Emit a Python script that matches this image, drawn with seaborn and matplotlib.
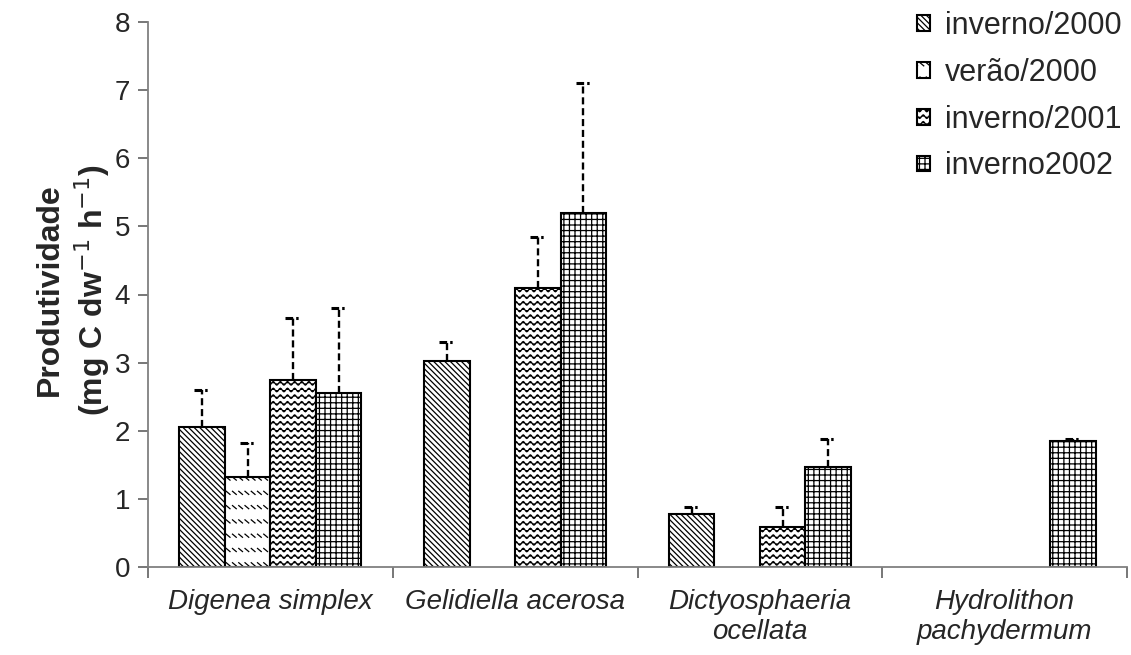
import numpy as np
import pandas as pd
import matplotlib
matplotlib.use("Agg")
import matplotlib.pyplot as plt
import matplotlib.hatch as mhatch
from matplotlib.path import Path
import seaborn as sns
import warnings
warnings.filterwarnings("ignore")

# ---------------- data ----------------
species = ["Digenea simplex", "Gelidiella acerosa", "Dictyosphaeria\nocellata", "Hydrolithon\npachydermum"]
seasons = ["inverno/2000", "verão/2000", "inverno/2001", "inverno2002"]
inverno2000 = [2.05, 3.03, 0.78, None]
verao2000 = [1.32, None, None, None]
inverno2001 = [2.75, 4.10, 0.58, None]
inverno2002 = [2.55, 5.20, 1.47, 1.85]
err_inverno2000 = [0.55, 0.27, 0.10, None]
err_verao2000 = [0.50, None, None, None]
err_inverno2001 = [0.90, 0.75, 0.30, None]
err_inverno2002 = [1.25, 1.90, 0.41, 0.03]
yticks = [0, 1, 2, 3, 4, 5, 6, 7, 8]

values = [inverno2000, verao2000, inverno2001, inverno2002]
errors = [err_inverno2000, err_verao2000, err_inverno2001, err_inverno2002]


# ---------------- custom hatches ----------------
class WaveHatch(mhatch.HatchPatternBase):
    def __init__(self, hatch, density):
        self.num_rows = int(hatch.count('~') * density * 1.25)
        self.pts = 9
        self.periods = 14
        if self.num_rows:
            self.n = self.periods * (self.pts - 1) + 1
            self.num_vertices = self.num_rows * self.n
        else:
            self.num_vertices = 0

    def set_vertices_and_codes(self, vertices, codes):
        n = self.n
        x = np.linspace(0, 1, n)
        amp = 0.27 / self.num_rows
        c = 0
        for i in range(self.num_rows):
            y0 = (i + 0.5) / self.num_rows
            vertices[c:c + n, 0] = x
            vertices[c:c + n, 1] = y0 + amp * np.sin(2 * np.pi * self.periods * x)
            codes[c] = Path.MOVETO
            codes[c + 1:c + n] = Path.LINETO
            c += n


class DashRowHatch(mhatch.HatchPatternBase):
    def __init__(self, hatch, density):
        self.num_rows = int(hatch.count('s') * density * 1.25)
        self.per_row = 16
        self.num_vertices = self.num_rows * self.per_row * 2 if self.num_rows else 0

    def set_vertices_and_codes(self, vertices, codes):
        c = 0
        w = 0.6 / self.per_row
        h = 0.22 / self.num_rows
        for i in range(self.num_rows):
            y0 = (i + 0.5) / self.num_rows
            for j in range(self.per_row):
                x0 = (j + 0.2) / self.per_row
                vertices[c] = (x0, y0 + h / 2)
                vertices[c + 1] = (x0 + w, y0 - h / 2)
                codes[c] = Path.MOVETO
                codes[c + 1] = Path.LINETO
                c += 2


mhatch._hatch_types.append(WaveHatch)
mhatch._hatch_types.append(DashRowHatch)

hatches = ['\\' * 6, 's', '~~', '+++']

# ---------------- style ----------------
sns.set_theme(style="white")
plt.rcParams['font.family'] = ['Liberation Sans', 'DejaVu Sans']
plt.rcParams['hatch.linewidth'] = 0.9
plt.rcParams['hatch.color'] = 'black'

rows = []
for s, vals in zip(seasons, values):
    for sp, v in zip(species, vals):
        if v is not None:
            rows.append({"species": sp, "season": s, "value": v})
df = pd.DataFrame(rows)

fig = plt.figure(figsize=(11.31, 6.55), dpi=100)
ax = fig.add_axes([148 / 1131, 1 - 567 / 655, (1127 - 148) / 1131, (567 - 22) / 655])

sns.barplot(data=df, x="species", y="value", hue="season", order=species,
            hue_order=seasons, width=0.744, errorbar=None, legend=False,
            color="white", saturation=1, ax=ax)

for cont, hatch in zip(ax.containers, hatches):
    for bar in cont:
        bar.set_facecolor("white")
        bar.set_edgecolor("black")
        bar.set_linewidth(1.5)
        bar.set_hatch(hatch)

# error bars (upward only, dashed)
cap_half = 0.032
for cont, errs, vals in zip(ax.containers, errors, values):
    for bar in cont:
        xc = bar.get_x() + bar.get_width() / 2
        k = int(round(xc))
        e = errs[k]
        if e is None or vals[k] is None:
            continue
        top = vals[k] + e
        eb = ax.errorbar([xc], [vals[k]], yerr=[[0], [e]], fmt='none', ecolor='black',
                         elinewidth=1.7, capsize=0, zorder=5)
        for lc in eb[2]:
            lc.set_linestyle((0, (3, 1.6)))
        ax.hlines(top, xc - cap_half, xc + cap_half, colors='black',
                  linewidth=2.2, linestyles=(0, (2.5, 1.0, 0.8, 1.0)), zorder=5)

ax.set_ylim(0, 8)
ax.set_yticks(yticks)
ax.set_xlim(-0.5, len(species) - 0.5)
ax.set_xticks(range(len(species)))
ax.set_xticklabels(species, fontsize=20, style='italic')
ax.set_xticks(np.arange(-0.5, len(species)), minor=True)
ax.tick_params(axis='x', which='major', length=0, pad=16)
ax.tick_params(axis='x', which='minor', length=8, width=1.2, color='#606060', direction='out', bottom=True)
ax.tick_params(axis='y', length=7, width=1.2, color='#606060', direction='out', left=True, labelsize=20, pad=6)
ax.set_xlabel("")
ax.set_ylabel("Produtividade\n(mg C dw$^{-1}$ h$^{-1}$)", fontsize=23, fontweight='bold',
              linespacing=1.25)
ax.yaxis.set_label_coords((112 - 148) / 979, (567 - 290) / 545)

for side in ['top', 'right']:
    ax.spines[side].set_visible(False)
for side in ['left', 'bottom']:
    ax.spines[side].set_color('#808080')
    ax.spines[side].set_linewidth(1.3)

leg = ax.legend(handles=list(ax.containers), labels=seasons, loc='upper left',
                bbox_to_anchor=(914 / 1131, 1 - 8 / 655), bbox_transform=fig.transFigure,
                frameon=False, fontsize=22, handlelength=0.42, handleheight=0.42,
                handletextpad=0.5, labelspacing=0.55, borderpad=0.1, borderaxespad=0)

fig.savefig("out.png", dpi=100)
